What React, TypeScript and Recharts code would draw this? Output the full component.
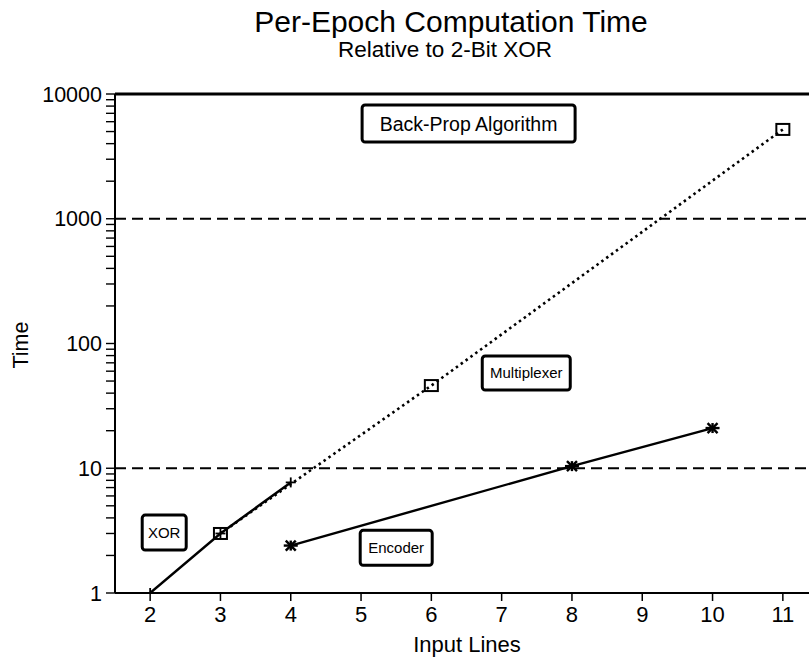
import { LineChart, Line, XAxis, YAxis, ReferenceLine, ReferenceDot } from "recharts"

const inputLines = [2, 3, 4, 5, 6, 7, 8, 9, 10, 11]

const xorLines = [2, 3, 4]
const xorTime = [1, 3, 7.7]

const muxLines = [3, 6, 11]
const muxTime = [3, 46, 5200]

const encLines = [4, 8, 10]
const encTime = [2.4, 10.4, 21]

const yMajor = [1, 10, 100, 1000, 10000]
const yMinorSteps = [2, 3, 4, 5, 6, 7, 8, 9]
const dashedAt = [10, 1000]

const notes = [
  { text: "Back-Prop Algorithm", x: 6.53, y: 5800, w: 213, h: 37, size: 19.5 },
  { text: "Multiplexer", x: 7.35, y: 58, w: 88, h: 34, size: 15 },
  { text: "Encoder", x: 5.5, y: 2.3, w: 72, h: 35, size: 15 },
  { text: "XOR", x: 2.2, y: 3.05, w: 44, h: 35, size: 15 },
]

const font = "'Liberation Sans', Arial, Helvetica, sans-serif"

const toRows = (xs: number[], ys: number[]) => xs.map((x, i) => ({ x, time: ys[i] }))
const xorData = toRows(xorLines, xorTime)
const muxData = toRows(muxLines, muxTime)
const encData = toRows(encLines, encTime)

const yTicks = yMajor.flatMap((d) => (d === 10000 ? [d] : [d, ...yMinorSteps.map((m) => d * m)]))

const Square = (p: any) => (
  <rect key={"sq" + p.index} x={p.cx - 6.5} y={p.cy - 5.5} width={13} height={11} fill="none" stroke="#000" strokeWidth={2} />
)

const Plus = (p: any) => (
  <g key={"pl" + p.index} stroke="#000" strokeWidth={1.8}>
    <line x1={p.cx - 5} y1={p.cy} x2={p.cx + 5} y2={p.cy} />
    <line x1={p.cx} y1={p.cy - 5} x2={p.cx} y2={p.cy + 5} />
  </g>
)

const Star = (p: any) => (
  <g key={"st" + p.index} stroke="#000" strokeWidth={2.4}>
    <line x1={p.cx - 7} y1={p.cy} x2={p.cx + 7} y2={p.cy} />
    <line x1={p.cx} y1={p.cy - 5} x2={p.cx} y2={p.cy + 5} />
    <line x1={p.cx - 5} y1={p.cy - 5} x2={p.cx + 5} y2={p.cy + 5} />
    <line x1={p.cx - 5} y1={p.cy + 5} x2={p.cx + 5} y2={p.cy - 5} />
  </g>
)

const YTick = (p: any) => {
  if (!yMajor.includes(p.payload.value)) return <g />
  return (
    <text x={p.x} y={p.y} dy="0.36em" textAnchor="end" fontSize={21.5} fontFamily={font} fill="#000">
      {p.payload.value}
    </text>
  )
}

const noteShape = (n: (typeof notes)[number]) => (p: any) => (
  <g>
    <rect x={p.cx - n.w / 2} y={p.cy - n.h / 2} width={n.w} height={n.h} rx={3} fill="#fff" stroke="#000" strokeWidth={3} />
    <text x={p.cx} y={p.cy} dy="0.36em" textAnchor="middle" fontSize={n.size} fontFamily={font} fill="#000">
      {n.text}
    </text>
  </g>
)

export default function App() {
  return (
    <div style={{ position: "fixed", left: 0, top: 0, width: 809, height: 659, overflow: "hidden", background: "#fff" }}>
      <LineChart width={840} height={659} margin={{ top: 94, right: 22, bottom: 0, left: 0 }}>
        <XAxis
          type="number"
          dataKey="x"
          domain={[1.5, 11.5]}
          ticks={inputLines}
          allowDataOverflow
          height={66}
          tickSize={8}
          tickMargin={5}
          axisLine={{ stroke: "#000", strokeWidth: 2.2 }}
          tickLine={{ stroke: "#000", strokeWidth: 1.5 }}
          tick={{ fontSize: 22, fontFamily: font, fill: "#000" }}
        />
        <YAxis
          type="number"
          scale="log"
          domain={[1, 10000]}
          ticks={yTicks}
          allowDataOverflow
          interval={0}
          width={115}
          tickSize={9}
          tickMargin={4}
          axisLine={{ stroke: "#000", strokeWidth: 2 }}
          tickLine={{ stroke: "#000", strokeWidth: 1.4 }}
          tick={<YTick />}
        />
        <ReferenceLine y={10000} stroke="#000" strokeWidth={2.8} />
        {dashedAt.map((v) => (
          <ReferenceLine key={v} y={v} stroke="#000" strokeWidth={2} strokeDasharray="11 6" />
        ))}
        <Line
          data={muxData}
          dataKey="time"
          stroke="#000"
          strokeWidth={2.6}
          strokeDasharray="2.5 3.5"
          dot={Square}
          activeDot={false}
          isAnimationActive={false}
        />
        <Line
          data={xorData}
          dataKey="time"
          stroke="#000"
          strokeWidth={2.4}
          dot={Plus}
          activeDot={false}
          isAnimationActive={false}
        />
        <Line
          data={encData}
          dataKey="time"
          stroke="#000"
          strokeWidth={2.4}
          dot={Star}
          activeDot={false}
          isAnimationActive={false}
        />
        {notes.map((n) => (
          <ReferenceDot key={n.text} x={n.x} y={n.y} r={1} shape={noteShape(n)} />
        ))}
      </LineChart>
      <svg width={809} height={659} style={{ position: "absolute", left: 0, top: 0, pointerEvents: "none" }}>
        <text x={451} y={32} textAnchor="middle" fontSize={30} fontFamily={font} fill="#000">
          Per-Epoch Computation Time
        </text>
        <text x={445} y={57} textAnchor="middle" fontSize={22.5} fontFamily={font} fill="#000">
          Relative to 2-Bit XOR
        </text>
        <text x={28} y={345} transform="rotate(-90 28 345)" textAnchor="middle" fontSize={21.5} fontFamily={font} fill="#000" style={{ fill: "#000" }}>
          Time
        </text>
        <text x={467} y={652} textAnchor="middle" fontSize={22} fontFamily={font} fill="#000">
          Input Lines
        </text>
      </svg>
    </div>
  )
}
